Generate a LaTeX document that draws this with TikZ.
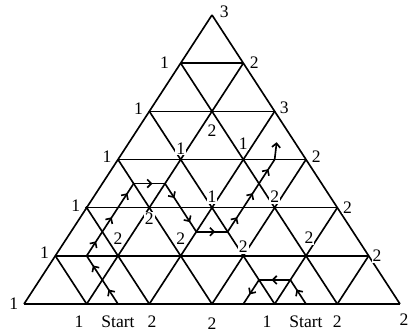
\documentclass[tikz,border=0pt]{standalone}
\usepackage{fontspec}
\setmainfont{Liberation Serif}
\usetikzlibrary{calc,positioning,arrows.meta,decorations.markings}

\tikzset{
  grid/.style={line width=1.4pt},
  tag/.style={font=\fontsize{15}{17}\selectfont,inner sep=0.8pt,fill=white},
  walk/.style={line width=1.4pt,postaction={decorate},
    decoration={markings,mark=at position 0.6 with {\arrow{Straight Barb[length=3.5pt,width=7pt]}}}},
}

\begin{document}
\begin{tikzpicture}
  \path[use as bounding box] (-6.36,0.45) rectangle (6.0,-9.54);
  \foreach \r in {0,...,6}
    \foreach \k in {0,...,\r}
      \coordinate (v\r\k) at ({(\k-\r/2)*1.88},{-\r*1.445});
  \foreach \r in {1,...,6}
    \draw[grid] (v\r0) -- (v\r\r);
  \foreach \k in {0,...,5}{
    \pgfmathtruncatemacro\m{6-\k}
    \draw[grid] (v6\k) -- (v\k\k);
    \draw[grid] (v6\m) -- (v\k0);
  }
  \draw[line width=1.7pt] (v60) -- (v66);
  \foreach \v in {21,31,32,40,41,42,43,52,53,54}
    \fill (v\v) circle (0.05);

  \node[tag,right=0.2cm of v00,yshift=2.5pt] (t00) {3};
  \node[tag,left=0.32cm of v10] (t10) {1};
  \node[tag,right=0.16cm of v11] (t11) {2};
  \node[tag,left=0.16cm of v20,yshift=2pt] (t20) {1};
  \node[tag,below=0.36cm of v21] (t21) {2};
  \node[tag,right=0.12cm of v22,yshift=3pt] (t22) {3};
  \node[tag,left=0.16cm of v30,yshift=2pt] (t30) {1};
  \node[tag,above=0.12cm of v31] (t31) {1};
  \node[tag,above=0.27cm of v32] (t32) {1};
  \node[tag,right=0.14cm of v33,yshift=2pt] (t33) {2};
  \node[tag,left=0.16cm of v40,yshift=2pt] (t40) {1};
  \node[tag,below=0.12cm of v41] (t41) {2};
  \node[tag,above=0.11cm of v42] (t42) {1};
  \node[tag,above=0.11cm of v43] (t43) {2};
  \node[tag,right=0.14cm of v44] (t44) {2};
  \node[tag,left=0.16cm of v50,yshift=3pt] (t50) {1};
  \node[tag,above=0.3cm of v51] (t51) {2};
  \node[tag,above=0.3cm of v52] (t52) {2};
  \node[tag,above=0.06cm of v53] (t53) {2};
  \node[tag,above=0.33cm of v54,xshift=0.09cm] (t54) {2};
  \node[tag,right=0.08cm of v55] (t55) {2};
  \node[tag,left=0.14cm of v60] (t60) {1};

  \foreach \n/\a/\b in {0/61/62,1/61/51,2/50/51,3/40/51,4/40/41,5/30/41,6/31/41,
      7/41/42,8/42/52,9/42/53,10/42/43,11/32/43,12/32/33}
    \coordinate (d\n) at ($(v\a)!0.5!(v\b)$);
  \coordinate (dEnd) at ($(d12)+(0.06,0.52)$);
  \foreach \n/\a/\b in {0/64/65,1/54/64,2/53/64,3/63/64}
    \coordinate (e\n) at ($(v\a)!0.5!(v\b)$);

  \foreach \n [count=\p from 1] in {0,...,11}
    \draw[walk] (d\n) -- (d\p);
  \draw[line width=1.4pt,-{Straight Barb[length=3.5pt,width=7pt]}] (d12) -- (dEnd);
  \foreach \n [count=\p from 1] in {0,...,2}
    \draw[walk] (e\n) -- (e\p);

  \node[tag,below=0.33cm of v61,xshift=-0.23cm] (b61) {1};
  \node[tag,below=0.33cm of d0] (startL) {Start};
  \node[tag,below=0.33cm of v62,xshift=0.08cm] (b62) {2};
  \node[tag,below=0.39cm of v63] (b63) {2};
  \node[tag,below=0.31cm of v64,xshift=-0.23cm] (b64) {1};
  \node[tag,below=0.31cm of e0] (startR) {Start};
  \node[tag,below=0.33cm of v65] (b65) {2};
  \node[tag,below=0.25cm of v66,xshift=0.12cm] (b66) {2};
\end{tikzpicture}
\end{document}
